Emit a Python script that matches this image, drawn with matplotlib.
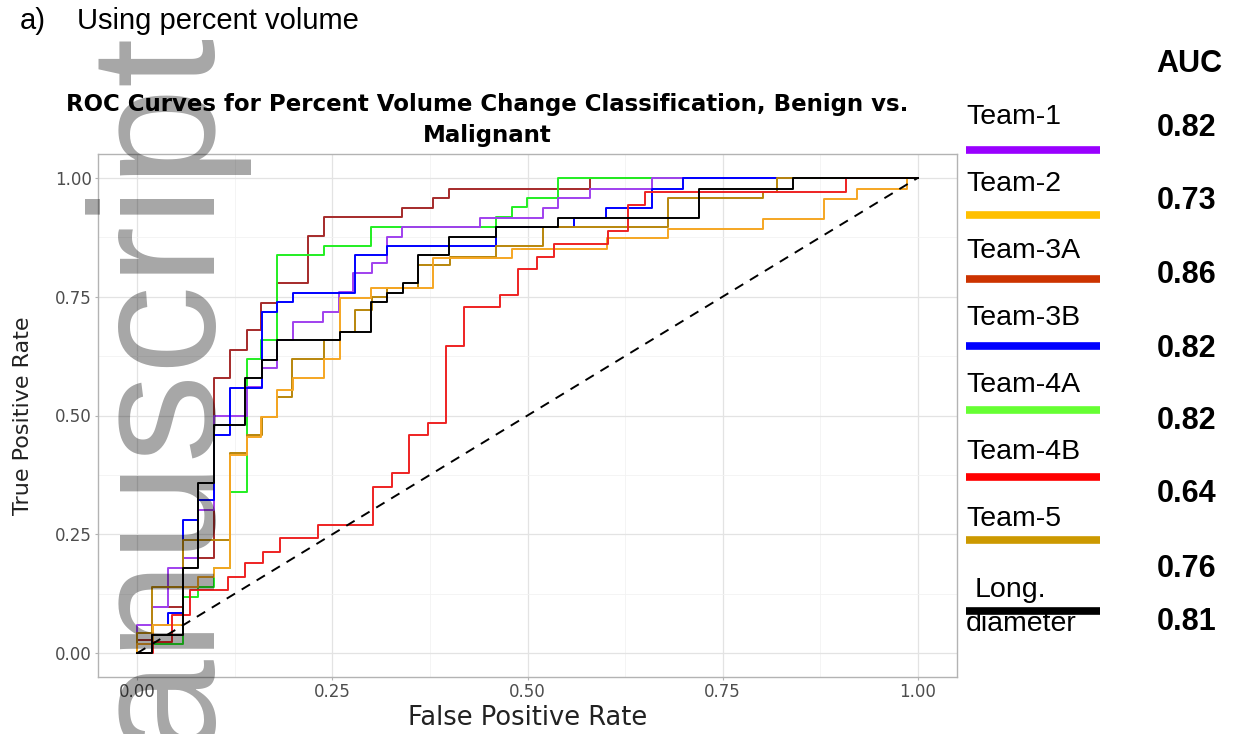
import matplotlib.pyplot as plt
from matplotlib.lines import Line2D

# ROC step points: fpr where the curve jumps, tpr after the jump
team1_fpr = [0, 0, 0.019, 0.039, 0.059, 0.078, 0.099, 0.141, 0.160, 0.179, 0.200, 0.238, 0.259,
             0.277, 0.301, 0.320, 0.339, 0.439, 0.520, 0.539, 0.580, 0.659, 1.0]
team1_tpr = [0, 0.059, 0.097, 0.179, 0.200, 0.301, 0.500, 0.559, 0.600, 0.659, 0.697, 0.718, 0.760,
             0.800, 0.821, 0.876, 0.897, 0.916, 0.937, 0.958, 0.977, 1.0, 1.0]

team2_fpr = [0, 0, 0.020, 0.059, 0.078, 0.099, 0.119, 0.141, 0.159, 0.179, 0.200, 0.239, 0.260,
             0.300, 0.379, 0.480, 0.602, 0.680, 0.802, 0.880, 0.922, 0.986, 1.0]
team2_tpr = [0, 0.020, 0.059, 0.139, 0.160, 0.180, 0.417, 0.455, 0.497, 0.554, 0.579, 0.619, 0.747,
             0.768, 0.832, 0.851, 0.874, 0.893, 0.914, 0.956, 0.977, 1.0, 1.0]

team3a_fpr = [0, 0, 0.019, 0.059, 0.099, 0.119, 0.141, 0.159, 0.179, 0.219, 0.239, 0.339, 0.379,
              0.399, 0.580, 1.0]
team3a_tpr = [0, 0.027, 0.097, 0.200, 0.579, 0.638, 0.680, 0.737, 0.779, 0.878, 0.918, 0.937, 0.958,
              0.977, 1.0, 1.0]

team3b_fpr = [0, 0, 0.020, 0.039, 0.059, 0.078, 0.099, 0.119, 0.160, 0.179, 0.200, 0.279, 0.320,
              0.460, 0.560, 0.600, 0.659, 0.699, 1.0]
team3b_tpr = [0, 0.020, 0.060, 0.084, 0.280, 0.322, 0.459, 0.558, 0.718, 0.739, 0.758, 0.838, 0.857,
              0.897, 0.916, 0.937, 0.977, 1.0, 1.0]

team4a_fpr = [0, 0.019, 0.059, 0.078, 0.098, 0.119, 0.141, 0.159, 0.179, 0.239, 0.300, 0.460, 0.480,
              0.499, 0.539, 1.0]
team4a_tpr = [0, 0.020, 0.118, 0.139, 0.179, 0.339, 0.619, 0.659, 0.838, 0.857, 0.897, 0.918, 0.939,
              0.958, 1.0, 1.0]

team4b_fpr = [0, 0.020, 0.045, 0.068, 0.117, 0.138, 0.161, 0.183, 0.232, 0.302, 0.327, 0.348, 0.373,
              0.396, 0.419, 0.465, 0.488, 0.512, 0.534, 0.603, 0.629, 0.650, 0.908, 1.0]
team4b_tpr = [0, 0.023, 0.080, 0.133, 0.160, 0.189, 0.213, 0.242, 0.269, 0.349, 0.379, 0.459, 0.484,
              0.646, 0.728, 0.754, 0.808, 0.834, 0.861, 0.888, 0.943, 0.971, 1.0, 1.0]

team5_fpr = [0, 0, 0.019, 0.059, 0.119, 0.141, 0.160, 0.179, 0.198, 0.239, 0.260, 0.279, 0.301,
             0.320, 0.360, 0.401, 0.460, 0.520, 0.680, 0.802, 0.819, 1.0]
team5_tpr = [0, 0.042, 0.139, 0.238, 0.421, 0.459, 0.497, 0.539, 0.619, 0.659, 0.676, 0.722, 0.749,
             0.768, 0.817, 0.834, 0.857, 0.897, 0.958, 0.971, 1.0, 1.0]

long_fpr = [0, 0.019, 0.059, 0.078, 0.099, 0.138, 0.160, 0.179, 0.260, 0.300, 0.320, 0.341, 0.360,
            0.400, 0.460, 0.539, 0.720, 0.840, 1.0]
long_tpr = [0, 0.038, 0.179, 0.358, 0.480, 0.579, 0.617, 0.659, 0.676, 0.739, 0.758, 0.779, 0.838,
            0.876, 0.897, 0.916, 0.977, 1.0, 1.0]

legend_names = ['Team-1', 'Team-2', 'Team-3A', 'Team-3B', 'Team-4A', 'Team-4B', 'Team-5']
legend_colors = ['#9900ff', '#ffc000', '#cc3300', '#0000ff', '#66ff33', '#ff0000', '#cc9900']
auc_values = ['0.82', '0.73', '0.86', '0.82', '0.82', '0.64', '0.76', '0.81']

W, H = 1236, 734
fig = plt.figure(figsize=(W / 100, H / 100), dpi=100)


def fx(px):
    return px / W


def fy(py):
    return 1 - py / H


ax = fig.add_axes([fx(98), fy(677), fx(957) - fx(98), fy(154) - fy(677)])

# curves (order decides what sits on top)
ax.plot(team3a_fpr, team3a_tpr, drawstyle='steps-post', color='#a52a2a', lw=1.4)
ax.plot(team4a_fpr, team4a_tpr, drawstyle='steps-post', color='#22ee22', lw=1.4)
ax.plot(team1_fpr, team1_tpr, drawstyle='steps-post', color='#a040ee', lw=1.4)
ax.plot(team3b_fpr, team3b_tpr, drawstyle='steps-post', color='#0000ff', lw=1.4)
ax.plot(team5_fpr, team5_tpr, drawstyle='steps-post', color='#b8860b', lw=1.4)
ax.plot(team2_fpr, team2_tpr, drawstyle='steps-post', color='#f5a623', lw=1.4)
ax.plot(team4b_fpr, team4b_tpr, drawstyle='steps-post', color='#ee2222', lw=1.4)
ax.plot(long_fpr, long_tpr, drawstyle='steps-post', color='black', lw=1.4)
ax.plot([0, 1], [0, 1], '--', color='black', lw=1.4, dashes=(5, 4))

ax.set_xlim(-0.05, 1.05)
ax.set_ylim(-0.05, 1.05)
ticks = [0, 0.25, 0.5, 0.75, 1.0]
ax.set_xticks(ticks)
ax.set_yticks(ticks)
ax.set_xticklabels(['0.00', '0.25', '0.50', '0.75', '1.00'])
ax.set_yticklabels(['0.00', '0.25', '0.50', '0.75', '1.00'])
ax.set_xticks([0.125, 0.375, 0.625, 0.875], minor=True)
ax.set_yticks([0.125, 0.375, 0.625, 0.875], minor=True)
ax.grid(which='major', color='#e3e3e3', lw=0.9)
ax.grid(which='minor', color='#f2f2f2', lw=0.6)
ax.set_axisbelow(True)
for s in ax.spines.values():
    s.set_color('#b3b3b3')
    s.set_linewidth(1.0)
ax.tick_params(which='major', color='#b3b3b3', length=2.5, width=0.8, pad=2,
               labelsize=12, labelcolor='#4d4d4d')
ax.tick_params(which='minor', length=0)
ax.set_xlabel('False Positive Rate', fontsize=18.5, color='#222222', labelpad=3)
ax.set_ylabel('True Positive Rate', fontsize=16, color='#222222')
ax.yaxis.set_label_coords(-0.076, 0.5)

# titles
fig.text(fx(20), fy(21), 'a)', fontsize=21, family='Liberation Sans', va='center', ha='left')
fig.text(fx(77), fy(21), 'Using percent volume', fontsize=21, family='Liberation Sans',
         va='center', ha='left')
fig.text(fx(487), fy(120), 'ROC Curves for Percent Volume Change Classification, Benign vs.\nMalignant',
         fontsize=16.5, family='DejaVu Sans', fontweight='bold', ha='center', va='center',
         linespacing=1.45)

# custom legend on the right
fig.text(fx(1189), fy(64), 'AUC', fontsize=22, family='Liberation Sans', fontweight='bold',
         ha='center', va='center')
label_y = [117, 184, 251, 318, 385, 452, 519]
line_y = [150, 215, 279, 346, 410, 477, 540]
auc_y = [128, 201, 275, 349, 421, 494, 569, 622]
for name, col, ly, ry in zip(legend_names, legend_colors, label_y, line_y):
    fig.text(fx(966), fy(ly), name, fontsize=20.5, family='Liberation Sans', va='center', ha='left')
    fig.add_artist(Line2D([fx(966), fx(1100)], [fy(ry), fy(ry)], color=col, lw=5.5,
                          transform=fig.transFigure, solid_capstyle='butt'))
fig.text(fx(975), fy(590), 'Long.', fontsize=20.5, family='Liberation Sans', va='center', ha='left')
fig.text(fx(966), fy(624), 'diameter', fontsize=20.5, family='Liberation Sans', va='center', ha='left')
fig.add_artist(Line2D([fx(966), fx(1100)], [fy(611), fy(611)], color='black', lw=5.5,
                      transform=fig.transFigure, solid_capstyle='butt'))
for val, vy in zip(auc_values, auc_y):
    fig.text(fx(1187), fy(vy), val, fontsize=22, family='Liberation Sans', fontweight='bold',
             ha='center', va='center')

# watermark
fig.text(fx(208), fy(30), 'anuscript', fontsize=128, family='Liberation Sans', color='black',
         alpha=0.35, rotation=90, rotation_mode='anchor', ha='right', va='baseline', zorder=10)

fig.savefig('out.png', dpi=100)
